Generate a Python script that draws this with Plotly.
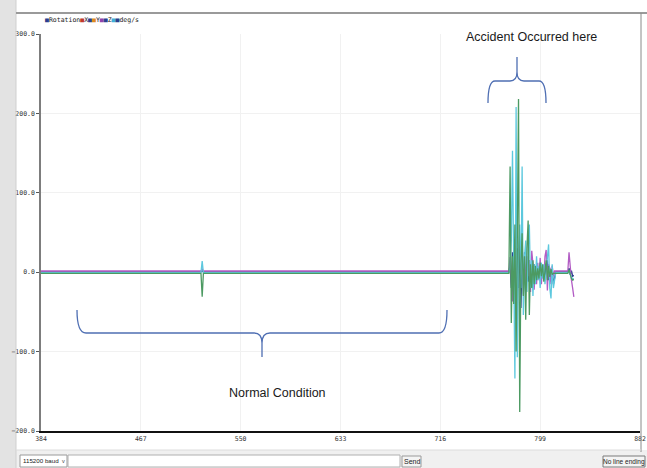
import plotly.graph_objects as go

# ---------------- data ----------------
X_TICKS = [384, 467, 550, 633, 716, 799, 882]
Y_TICKS = [-200, -100, 0, 100, 200, 300]

# sample index (x) shared by all series
SAMPLE_X = [384, 516, 517, 518, 519, 520, 772,
            773, 774, 775, 776, 777, 778, 779, 780, 781, 782,
            783, 784, 785, 786, 787, 788, 789, 790, 791, 792,
            793, 794, 795, 796, 797, 798, 799, 800, 801, 802,
            803, 804, 805, 806, 807, 808, 809, 810, 811, 812,
            822, 823, 824, 825, 826, 827]

NAVY = [0.3, 0.3, 0.3, 2, 0.3, 0.3, 0.3,
        0.3, 10, -20, 25, -30, 15, -40, 30, -20, 35,
        -45, 20, -15, 25, -20, 10, -12, 15, -10, 8,
        -5, 10, -8, 5, -5, 6, -8, 4, -4, 5,
        -6, 10, 15, -10, 5, -12, 4, -15, -5, 0.3,
        0.3, 5, -3, 2, -5, -4]

PURPLE = [1.5, 1.5, 1.5, 4, 1.5, 1.5, 1.5,
          1.5, 19, -10, -37, 10, 25, -20, -45, 15, 40,
          32, -10, -28, 10, -15, 20, -5, 15, -25, 27,
          10, -22, 5, -15, 12, -10, 18, -15, 5, -10,
          20, 28, -23, 10, 5, -15, 8, -5, 1.5, 1.5,
          1.5, 25, 5, -10, -20, -31]

CYAN = [-0.5, -0.5, -0.5, 14, -0.5, -0.5, -0.5,
        -0.5, 5, 40, 153, -30, -134, 208, -107, 30, 60,
        -20, 133, -54, 20, 40, -25, 30, 60, -20, 15,
        -30, 10, -15, 20, -10, 8, -20, 12, -8, 10,
        -15, 5, 20, 35, -20, -33, 10, -20, -10, -0.5,
        -0.5, 2, -3, -6, -9, -8]

GREEN = [-1.5, -1.5, -1.5, -31, -1.5, -1.5, -1.5,
         -1.5, 133, -64, 20, -40, 60, -100, 40, 218, -176,
         10, 49, -30, 20, -60, 30, 65, -54, 10, -20,
         15, -15, 8, -10, 5, -8, 12, -5, 10, -12,
         6, 15, -10, 8, -6, 4, -3, -1.5, -1.5, -1.5,
         -1.5, 3, -5, -8, -10, -9]

SERIES = [("Rotation", NAVY, "#2b3f8f"),
          ("Z", PURPLE, "#b25cc4"),
          ("deg/s", CYAN, "#5cc8de"),
          ("Y", GREEN, "#4c9a62")]

# ---------------- layout helpers ----------------
W, H = 647, 468
L, R, T, B = 41, 640, 34, 431


def px(p):
    return (p - L) / (R - L)


def py(p):
    return (B - p) / (B - T)


fig = go.Figure()
for name, vals, col in SERIES:
    fig.add_trace(go.Scatter(x=SAMPLE_X, y=vals, mode="lines", name=name,
                             line=dict(color=col, width=1.3), showlegend=False))

shapes = []
# window chrome
shapes.append(dict(type="rect", xref="paper", yref="paper", x0=px(0), x1=px(16),
                   y0=py(0), y1=py(468), fillcolor="#e3e3e3", line=dict(width=0), layer="below"))
shapes.append(dict(type="line", xref="paper", yref="paper", x0=px(16), x1=px(16),
                   y0=py(0), y1=py(468), line=dict(color="#cfcfcf", width=1)))
shapes.append(dict(type="rect", xref="paper", yref="paper", x0=px(16), x1=px(647),
                   y0=py(450), y1=py(468), fillcolor="#f0f0f0", line=dict(width=0), layer="below"))
shapes.append(dict(type="line", xref="paper", yref="paper", x0=px(16), x1=px(647),
                   y0=py(13), y1=py(13), line=dict(color="#9a9a9a", width=2)))
shapes.append(dict(type="line", xref="paper", yref="paper", x0=px(641), x1=px(641),
                   y0=py(13), y1=py(452), line=dict(color="#8a8a8a", width=1)))
shapes.append(dict(type="line", xref="paper", yref="paper", x0=px(16), x1=px(641),
                   y0=py(450), y1=py(450), line=dict(color="#dcdcdc", width=1)))
# bottom widgets
shapes.append(dict(type="rect", xref="paper", yref="paper", x0=px(20), x1=px(67),
                   y0=py(455), y1=py(467), fillcolor="#ffffff", line=dict(color="#9a9a9a", width=1)))
shapes.append(dict(type="rect", xref="paper", yref="paper", x0=px(68), x1=px(400),
                   y0=py(455), y1=py(467), fillcolor="#ffffff", line=dict(color="#b0b0b0", width=1)))
shapes.append(dict(type="rect", xref="paper", yref="paper", x0=px(402), x1=px(421),
                   y0=py(456), y1=py(467), fillcolor="#f4f4f4", line=dict(color="#9a9a9a", width=1)))
shapes.append(dict(type="rect", xref="paper", yref="paper", x0=px(603), x1=px(645),
                   y0=py(456), y1=py(467), fillcolor="#f4f4f4", line=dict(color="#7a7a7a", width=1)))

# braces
def P(a, b):
    return f"{px(a):.5f},{py(b):.5f}"

brace_normal = (f"M{P(77,310)} Q{P(77,333)} {P(86,333)} L{P(254,333)} "
                f"Q{P(262,333)} {P(262,343)} L{P(262,357)} M{P(262,343)} "
                f"Q{P(262,333)} {P(270,333)} L{P(439,333)} Q{P(447,333)} {P(447,310)}")
brace_acc = (f"M{P(488,103)} Q{P(488,81)} {P(495,81)} L{P(510,81)} "
             f"Q{P(517,81)} {P(517,72)} L{P(517,57)} M{P(517,72)} "
             f"Q{P(517,81)} {P(524,81)} L{P(539,81)} Q{P(546,81)} {P(546,103)}")
for pth in (brace_normal, brace_acc):
    shapes.append(dict(type="path", xref="paper", yref="paper", path=pth,
                       line=dict(color="#4f6fb3", width=1.3)))

ann = []
TXT_FONT = "Liberation Sans"
ann.append(dict(xref="paper", yref="paper", x=px(531), y=py(37), text="Accident Occurred here",
                showarrow=False, xanchor="center", yanchor="middle",
                font=dict(family=TXT_FONT, size=12.5, color="#1a1a1a")))
ann.append(dict(xref="paper", yref="paper", x=px(277), y=py(393), text="Normal Condition",
                showarrow=False, xanchor="center", yanchor="middle",
                font=dict(family=TXT_FONT, size=12.5, color="#1a1a1a")))

legend_items = [("#2b3f8f", "Rotation"), ("#c0392b", "X"), ("#2b3f8f", ""), ("#e08a1e", "Y"),
                ("#8e44ad", ""), ("#2b3f8f", "Z"), ("#3fb0d8", ""), ("#2b3f8f", "deg/s")]
leg = "".join(f"<span style='color:{c}'>■</span>{t}" for c, t in legend_items)
ann.append(dict(xref="paper", yref="paper", x=px(43), y=py(20), text=leg, showarrow=False,
                xanchor="left", yanchor="middle",
                font=dict(family="DejaVu Sans Mono", size=6.5, color="#222")))

small = dict(family="Liberation Sans", size=7, color="#222")
ann.append(dict(xref="paper", yref="paper", x=px(21), y=py(461), text="115200 baud",
                showarrow=False, xanchor="left", yanchor="middle",
                font=dict(family="Liberation Sans", size=6.2, color="#222")))
ann.append(dict(xref="paper", yref="paper", x=px(63.5), y=py(461), text="v",
                showarrow=False, xanchor="center", yanchor="middle",
                font=dict(family="Liberation Sans", size=5.5, color="#444")))
ann.append(dict(xref="paper", yref="paper", x=px(411.5), y=py(461.5), text="Send",
                showarrow=False, xanchor="center", yanchor="middle", font=small))
ann.append(dict(xref="paper", yref="paper", x=px(624), y=py(461.5), text="No line ending",
                showarrow=False, xanchor="center", yanchor="middle",
                font=dict(family="Liberation Sans", size=6.5, color="#222")))

fig.update_layout(
    width=W, height=H,
    margin=dict(l=L, r=W - R, t=T, b=H - B, pad=0),
    paper_bgcolor="#ffffff", plot_bgcolor="#ffffff",
    shapes=shapes, annotations=ann, showlegend=False,
    xaxis=dict(range=[384, 882], tickvals=X_TICKS, ticktext=[str(v) for v in X_TICKS],
               showgrid=True, gridcolor="#f1f1f1", gridwidth=1, zeroline=False,
               showline=True, linecolor="#111", linewidth=1.5,
               ticks="", tickfont=dict(family="DejaVu Sans Mono", size=6.5, color="#333"),
               automargin=False),
    yaxis=dict(range=[-200, 300], tickvals=Y_TICKS, tickformat=".1f",
               showgrid=True, gridcolor="#f1f1f1", gridwidth=1, zeroline=False,
               showline=True, linecolor="#7d7d7d", linewidth=1.5,
               ticks="outside", ticklen=3, tickcolor="#555",
               tickfont=dict(family="DejaVu Sans Mono", size=6.5, color="#333"),
               automargin=False),
)

fig.write_html("out.html", config={"displayModeBar": False},
               post_script="document.body.style.margin='0';document.body.style.overflow='hidden';")
